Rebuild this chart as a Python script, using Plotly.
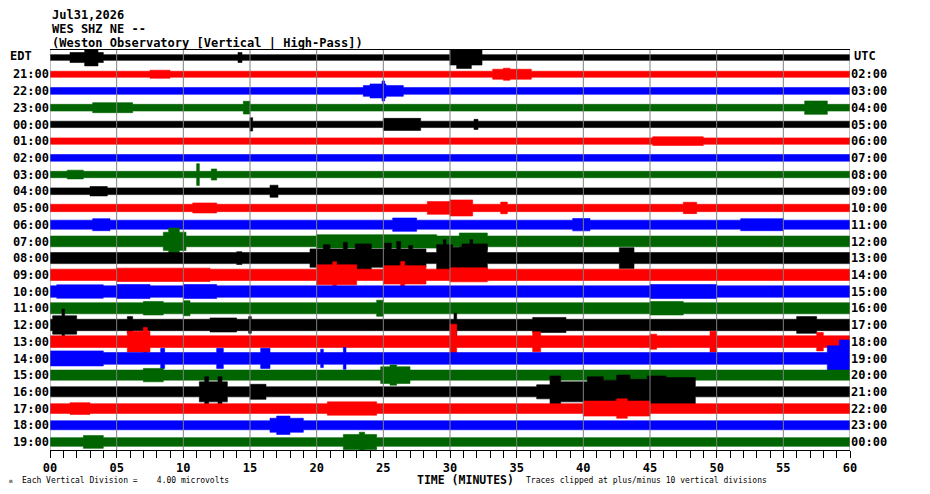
import plotly.graph_objects as go

# hour labels for each helicorder line (24 lines, one hour each)
EDT_LABELS = ["20:00", "21:00", "22:00", "23:00", "00:00", "01:00", "02:00", "03:00",
              "04:00", "05:00", "06:00", "07:00", "08:00", "09:00", "10:00", "11:00",
              "12:00", "13:00", "14:00", "15:00", "16:00", "17:00", "18:00", "19:00"]
UTC_LABELS = ["01:00", "02:00", "03:00", "04:00", "05:00", "06:00", "07:00", "08:00",
              "09:00", "10:00", "11:00", "12:00", "13:00", "14:00", "15:00", "16:00",
              "17:00", "18:00", "19:00", "20:00", "21:00", "22:00", "23:00", "00:00"]
MINUTE_TICKS = [0, 5, 10, 15, 20, 25, 30, 35, 40, 45, 50, 55, 60]
MINUTE_TEXT = ["00", "05", "10", "15", "20", "25", "30", "35", "40", "45", "50", "55", "60"]

LINE_COLORS = ["#000000", "#ff0000", "#0000ff", "#006400"]

# background noise half-amplitude of each line (in line spacings)
BASELINE = [0.17, 0.18, 0.2, 0.2, 0.19, 0.19, 0.2, 0.19, 0.2, 0.22, 0.27, 0.32,
            0.33, 0.34, 0.34, 0.33, 0.34, 0.35, 0.35, 0.3, 0.3, 0.29, 0.27, 0.26]

# bursts: (start minute, end minute, half-amplitude)
EVENTS = [
    [(1.5, 4.0, 0.3), (2.6, 3.6, 0.5), (14.1, 14.4, 0.3), (30.0, 32.4, 0.45), (30.5, 31.6, 0.65)],
    [(7.5, 9.0, 0.24), (33.2, 36.1, 0.3), (34.0, 34.5, 0.36)],
    [(23.5, 26.5, 0.32), (24.0, 25.2, 0.42), (24.9, 25.1, 0.6)],
    [(3.2, 6.2, 0.3), (14.5, 15.0, 0.38), (56.6, 58.3, 0.4)],
    [(15.0, 15.2, 0.4), (25.0, 27.8, 0.36), (31.8, 32.1, 0.3)],
    [(45.2, 49.0, 0.26)],
    [],
    [(1.3, 2.5, 0.26), (11.0, 11.2, 0.65), (12.1, 12.5, 0.33)],
    [(3.0, 4.3, 0.28), (16.5, 17.1, 0.36)],
    [(10.7, 12.5, 0.3), (28.3, 30.0, 0.38), (30.0, 31.7, 0.48), (33.8, 34.3, 0.35), (47.5, 48.5, 0.34)],
    [(3.2, 4.5, 0.36), (25.7, 27.5, 0.4), (39.2, 40.5, 0.37), (51.8, 55.0, 0.36)],
    [(8.5, 10.2, 0.55), (8.9, 9.7, 0.8), (20.0, 29.0, 0.4), (30.7, 32.8, 0.5)],
    [(14.0, 14.4, 0.38), (19.5, 28.2, 0.55), (20.5, 21.0, 0.8), (22.0, 22.3, 0.95), (22.9, 24.1, 0.85),
     (25.1, 25.6, 0.9), (26.0, 26.3, 1.0), (26.9, 27.2, 0.75), (29.0, 30.2, 0.8), (29.5, 29.7, 1.1),
     (30.2, 30.9, 0.65), (30.9, 32.8, 0.85), (31.5, 31.7, 1.1), (42.7, 43.8, 0.62)],
    [(5.0, 12.0, 0.4), (20.0, 23.0, 0.6), (21.2, 21.5, 0.78), (25.0, 28.2, 0.55), (26.3, 26.6, 0.8),
     (30.0, 32.8, 0.42)],
    [(0.5, 4.0, 0.4), (5.0, 7.5, 0.42), (10.0, 12.5, 0.42), (45.0, 50.0, 0.42)],
    [(7.0, 8.5, 0.4), (10.0, 10.5, 0.45), (24.5, 25.0, 0.48), (45.0, 47.5, 0.4)],
    [(0.2, 2.0, 0.55), (0.9, 1.1, 0.95), (5.8, 6.2, 0.5), (12.0, 14.0, 0.42), (14.9, 15.1, 0.5),
     (30.3, 30.5, 0.7), (36.2, 38.7, 0.45), (56.0, 57.5, 0.5)],
    [(5.8, 7.5, 0.62), (7.0, 7.3, 0.85), (30.0, 30.5, 1.05), (36.2, 36.8, 0.6), (45.0, 45.5, 0.45),
     (49.5, 50.0, 0.62), (57.5, 58.0, 0.55)],
    [(0.0, 4.0, 0.45), (8.3, 8.6, 0.6), (12.5, 13.0, 0.6), (15.8, 16.5, 0.6), (20.3, 20.5, 0.55),
     (22.0, 22.2, 0.65), (58.3, 60.0, 0.75), (59.2, 60.0, 1.1)],
    [(7.0, 8.5, 0.4), (24.8, 27.0, 0.5), (25.5, 26.0, 0.6)],
    [(11.2, 13.3, 0.6), (11.6, 11.9, 0.9), (12.6, 12.9, 0.9), (15.0, 16.2, 0.45), (36.5, 37.5, 0.42),
     (37.5, 38.3, 0.95), (38.3, 40.3, 0.6), (40.3, 41.5, 0.9), (41.5, 42.5, 0.7), (42.5, 43.5, 1.0),
     (43.5, 44.8, 0.75), (44.8, 46.2, 0.95), (46.2, 48.4, 0.85)],
    [(1.5, 3.0, 0.35), (20.8, 24.5, 0.4), (40.0, 45.0, 0.45), (42.5, 43.3, 0.58)],
    [(16.5, 19.0, 0.42), (17.0, 18.0, 0.55)],
    [(2.5, 4.0, 0.38), (22.0, 24.5, 0.45), (23.2, 23.6, 0.58)],
]

MONO = "DejaVu Sans Mono"


def band(row, base, events):
    # piecewise envelope -> closed outline around the line
    cuts = sorted({0.0, 60.0} | {t for ev in events for t in ev[:2]})
    segs = []
    for a, b in zip(cuts[:-1], cuts[1:]):
        mid = (a + b) / 2
        amp = max([base] + [e[2] for e in events if e[0] <= mid <= e[1]])
        segs.append((a, b, amp))
    xs, ys = [], []
    for a, b, amp in segs:
        xs += [a, b]
        ys += [row - amp, row - amp]
    for a, b, amp in reversed(segs):
        xs += [b, a]
        ys += [row + amp, row + amp]
    return xs, ys


fig = go.Figure()
for i in range(len(EDT_LABELS)):
    xs, ys = band(i, BASELINE[i], EVENTS[i])
    col = LINE_COLORS[i % 4]
    fig.add_trace(go.Scatter(x=xs, y=ys, mode="lines", fill="toself", fillcolor=col,
                             line=dict(color=col, width=0.6), hoverinfo="skip",
                             showlegend=False))
# empty trace so the right-hand axis is drawn
fig.add_trace(go.Scatter(x=[None], y=[None], yaxis="y2", showlegend=False))

# 5-minute division lines sit on top of the traces
for m in MINUTE_TICKS:
    fig.add_shape(type="line", xref="x", yref="paper", x0=m, x1=m, y0=0, y1=1,
                  line=dict(color="#808080", width=1), layer="above")

yrange = [23.48, -0.45]
tick_font = dict(family=MONO, size=12, color="black", weight="bold")

# page body keeps its default 8px margin, so the figure is 8px smaller
fig.update_layout(
    width=922, height=486,
    margin=dict(l=42, r=80, t=42, b=44, autoexpand=False),
    paper_bgcolor="white", plot_bgcolor="white",
    xaxis=dict(range=[0, 60], tickvals=MINUTE_TICKS, ticktext=MINUTE_TEXT,
               showgrid=False, automargin=False,
               showline=True, linecolor="black", linewidth=1, mirror=True,
               ticks="outside", ticklen=7, tickcolor="black", tickwidth=1,
               minor=dict(dtick=1, ticks="outside", ticklen=7, tickcolor="black", showgrid=False),
               tickfont=tick_font, zeroline=False),
    yaxis=dict(range=yrange, tickvals=list(range(1, 24)), ticktext=EDT_LABELS[1:],
               showgrid=False, zeroline=False, showline=False, ticks="",
               automargin=False, tickfont=tick_font),
    yaxis2=dict(range=yrange, overlaying="y", side="right",
                tickvals=list(range(1, 24)), ticktext=UTC_LABELS[1:],
                showgrid=False, zeroline=False, showline=False, ticks="",
                automargin=False, tickfont=tick_font),
)

title_lines = ["Jul31,2026", "WES SHZ NE --", "(Weston Observatory [Vertical | High-Pass])"]
for txt, yy in zip(title_lines, [1.088, 1.053, 1.018]):
    fig.add_annotation(text=txt, x=0, y=yy, xref="paper", yref="paper", xanchor="left",
                       yanchor="middle", showarrow=False, font=tick_font)

fig.add_annotation(text="EDT", x=-0.0525, y=0.985, xref="paper", yref="paper", xanchor="left",
                   yanchor="middle", showarrow=False, font=tick_font)
fig.add_annotation(text="UTC", x=1.003, y=0.985, xref="paper", yref="paper", xanchor="left",
                   yanchor="middle", showarrow=False, font=tick_font)
fig.add_annotation(text="TIME (MINUTES)", x=0.519, y=-0.074, xref="paper", yref="paper",
                   xanchor="center", yanchor="middle", showarrow=False,
                   font=dict(family=MONO, size=11.5, color="black", weight="bold"))

small = dict(family=MONO, size=8, color="black")
fig.add_annotation(text="Each Vertical Division =\u00a0\u00a0\u00a0\u00a04.00 microvolts",
                   x=-0.0375, y=-0.075, xref="paper", yref="paper", xanchor="left",
                   yanchor="middle", showarrow=False, font=small)
fig.add_annotation(text="Traces clipped at plus/minus 10 vertical divisions",
                   x=0.593, y=-0.075, xref="paper", yref="paper", xanchor="left",
                   yanchor="middle", showarrow=False, font=small)
fig.add_annotation(text="\u028d", x=-0.049, y=-0.077, xref="paper", yref="paper",
                   xanchor="center", yanchor="middle", showarrow=False,
                   font=dict(family=MONO, size=6, color="black"))

fig.write_html("out.html")
